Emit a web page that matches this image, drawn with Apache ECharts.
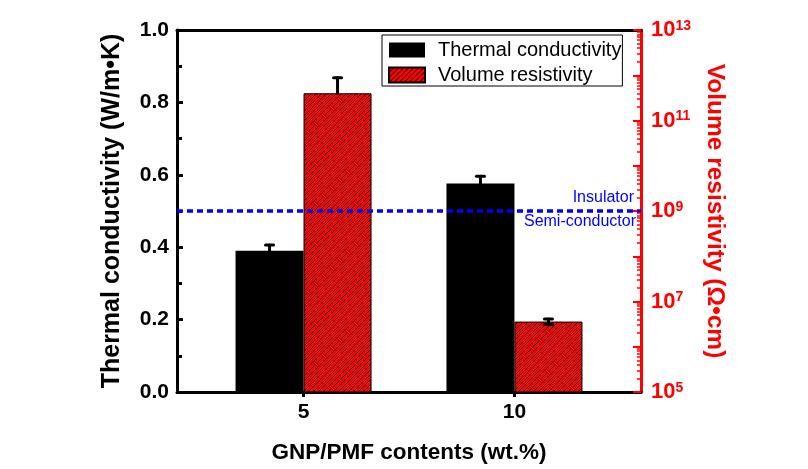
<!DOCTYPE html>
<html>
<head>
<meta charset="utf-8">
<script src="https://cdn.jsdelivr.net/npm/echarts@6/dist/echarts.min.js"></script>
<style>html,body{margin:0;padding:0;background:#fff;}#c{width:808px;height:469px;}</style>
</head>
<body>
<div id="c"></div>
<script>
// ---- data ----
const contents = [5, 10];                       // GNP/PMF contents (wt.%)
const thermalConductivity = [0.39, 0.576];      // W/m·K
const thermalErr = [0.016, 0.02];
const volumeResistivity = [4.0e11, 3.6e6];      // Ω·cm
const resistivityLow = [4.0e11, 3.1e6];
const resistivityHigh = [8.8e11, 4.1e6];
const thresholdResistivity = 1e9;               // insulator / semi-conductor boundary
const leftTicks = [0, 0.2, 0.4, 0.6, 0.8, 1.0];
const rightTickLabels = [1e5, 1e7, 1e9, 1e11, 1e13];
const rightMinorSteps = [2, 3, 4, 5, 6, 7, 8, 9];
const rightDecades = [1e5, 1e6, 1e7, 1e8, 1e9, 1e10, 1e11, 1e12];
const xTicks = [5, 10];

const FONT = "'Liberation Sans', Arial, sans-serif";
const RED = '#ff0000';
const BLUE = '#0000ff';
const BAR_W = 68;

// minor tick values of the log axis (k × 10^n)
const rightMinorTicks = [];
rightDecades.forEach(d => rightMinorSteps.forEach(k => rightMinorTicks.push(k * d)));

// hatch pattern for red bars
const pc = document.createElement('canvas');
pc.width = 5; pc.height = 5;
const g = pc.getContext('2d');
g.fillStyle = RED; g.fillRect(0, 0, 5, 5);
g.strokeStyle = '#000'; g.lineWidth = 1;
g.beginPath();
g.moveTo(-1, 6); g.lineTo(6, -1);
g.moveTo(-1, 1); g.lineTo(1, -1);
g.moveTo(4, 6); g.lineTo(6, 4);
g.stroke();
const hatch = { image: pc, repeat: 'repeat' };

function errRender(offset) {
  return function (params, api) {
    const x = api.value(0);
    const v = api.value(1), lo = api.value(2), hi = api.value(3);
    const pv = api.coord([x, v]);
    const pl = api.coord([x, lo]);
    const ph = api.coord([x, hi]);
    const cx = pv[0] + offset;
    const st = { stroke: '#000', lineWidth: 3, lineCap: 'round' };
    const ch = [
      { type: 'line', shape: { x1: cx, y1: pl[1], x2: cx, y2: ph[1] }, style: st },
      { type: 'line', shape: { x1: cx - 4, y1: ph[1], x2: cx + 4, y2: ph[1] }, style: st }
    ];
    if (lo < v) ch.push({ type: 'line', shape: { x1: cx - 4, y1: pl[1], x2: cx + 4, y2: pl[1] }, style: st });
    return { type: 'group', children: ch };
  };
}

const chart = echarts.init(document.getElementById('c'), null, { renderer: 'canvas' });
chart.setOption({
  animation: false,
  textStyle: { fontFamily: FONT },
  grid: { left: 177, right: 167, top: 30, bottom: 75 },
  legend: {
    left: 382, top: 35,
    orient: 'vertical',
    itemWidth: 36, itemHeight: 15, itemGap: 5,
    padding: [5, 1, 1, 6],
    borderColor: '#000', borderWidth: 1,
    icon: 'rect',
    textStyle: { fontSize: 20, fontFamily: FONT, color: '#000', lineHeight: 20, padding: [0, 0, 0, 8] },
    data: ['Thermal conductivity', 'Volume resistivity']
  },
  xAxis: [{
    type: 'value', min: 2, max: 13, position: 'bottom',
    name: 'GNP/PMF contents (wt.%)', nameLocation: 'middle', nameGap: 49,
    nameTextStyle: { fontSize: 22.5, fontWeight: 'bold', color: '#000', fontFamily: FONT },
    axisLine: { lineStyle: { color: '#000', width: 3 } },
    axisTick: { show: true, customValues: xTicks, length: 5, lineStyle: { width: 3, color: '#000' } },
    axisLabel: { customValues: xTicks, fontSize: 21, fontWeight: 'bold', color: '#000', margin: 10 },
    splitLine: { show: false }
  }, {
    type: 'value', min: 2, max: 13, position: 'top',
    axisLine: { lineStyle: { color: '#000', width: 3 } },
    axisTick: { show: false }, axisLabel: { show: false }, splitLine: { show: false }
  }],
  yAxis: [{
    type: 'value', min: 0, max: 1, interval: 0.2, position: 'left',
    name: 'Thermal conductivity (W/m\u2022K)', nameLocation: 'middle', nameGap: 52, nameRotate: 90,
    nameTextStyle: { fontSize: 25, fontWeight: 'bold', color: '#000', fontFamily: FONT },
    axisLine: { show: true, lineStyle: { color: '#000', width: 3 } },
    axisTick: { show: true, inside: true, length: 6, lineStyle: { width: 3, color: '#000' } },
    minorTick: { show: true, splitNumber: 2, length: 5, lineStyle: { width: 3, color: '#000' } },
    axisLabel: { fontSize: 21, fontWeight: 'bold', color: '#000', margin: 8, formatter: v => v.toFixed(1) },
    splitLine: { show: false }
  }, {
    type: 'log', logBase: 10, min: 1e5, max: 1e13, splitNumber: 8, position: 'right',
    name: 'Volume resistivity (\u03A9\u2022cm)', nameLocation: 'middle', nameGap: 55, nameRotate: -90,
    nameTextStyle: { fontSize: 24.5, fontWeight: 'bold', color: RED, fontFamily: FONT },
    axisLine: { show: true, lineStyle: { color: RED, width: 3 } },
    axisTick: { show: true, inside: true, length: 8, lineStyle: { width: 2, color: RED } },
    minorTick: { show: false },
    axisLabel: {
      customValues: rightTickLabels, margin: 10,
      formatter: v => '{b|10}{s|' + Math.round(Math.log10(v)) + '}',
      rich: {
        b: { fontSize: 22, fontWeight: 'bold', color: RED, fontFamily: FONT, verticalAlign: 'bottom' },
        s: { fontSize: 14, fontWeight: 'bold', color: RED, fontFamily: FONT, verticalAlign: 'top' }
      }
    },
    splitLine: { show: false }
  }, {
    // minor ticks of the resistivity axis
    type: 'log', logBase: 10, min: 1e5, max: 1e13, position: 'right',
    axisLine: { show: false },
    axisTick: { show: true, inside: true, customValues: rightMinorTicks, length: 4, lineStyle: { width: 1.5, color: RED } },
    axisLabel: { show: false },
    splitLine: { show: false }
  }],
  series: [{
    name: 'Thermal conductivity', type: 'bar', xAxisIndex: 0, yAxisIndex: 0,
    barWidth: BAR_W, barGap: '0%',
    itemStyle: { color: '#000' },
    data: contents.map((x, i) => [x, thermalConductivity[i]])
  }, {
    name: 'Volume resistivity', type: 'bar', xAxisIndex: 0, yAxisIndex: 1,
    barWidth: BAR_W, barGap: '0%', clip: true,
    itemStyle: { color: hatch, borderColor: '#000', borderWidth: 1 },
    data: contents.map((x, i) => [x, volumeResistivity[i]]),
    markLine: {
      silent: true, symbol: 'none', z: 6,
      lineStyle: { color: BLUE, width: 3.5, type: [6, 4] },
      data: [
        { yAxis: thresholdResistivity, label: { show: true, position: 'insideEndTop', formatter: 'Insulator', color: BLUE, fontSize: 16, fontFamily: FONT, distance: [7, 5] } },
        { yAxis: thresholdResistivity, lineStyle: { color: 'rgba(0,0,0,0)', width: 0 }, label: { show: true, position: 'insideEndBottom', formatter: 'Semi-conductor', color: BLUE, fontSize: 16, fontFamily: FONT, distance: [5, 3] } }
      ]
    }
  }, {
    type: 'custom', xAxisIndex: 0, yAxisIndex: 0, z: 5, silent: true,
    renderItem: errRender(-BAR_W / 2),
    data: contents.map((x, i) => [x, thermalConductivity[i], thermalConductivity[i] - thermalErr[i], thermalConductivity[i] + thermalErr[i]])
  }, {
    type: 'custom', xAxisIndex: 0, yAxisIndex: 1, z: 5, silent: true,
    renderItem: errRender(BAR_W / 2),
    data: contents.map((x, i) => [x, volumeResistivity[i], resistivityLow[i], resistivityHigh[i]])
  }]
});
</script>
</body>
</html>
